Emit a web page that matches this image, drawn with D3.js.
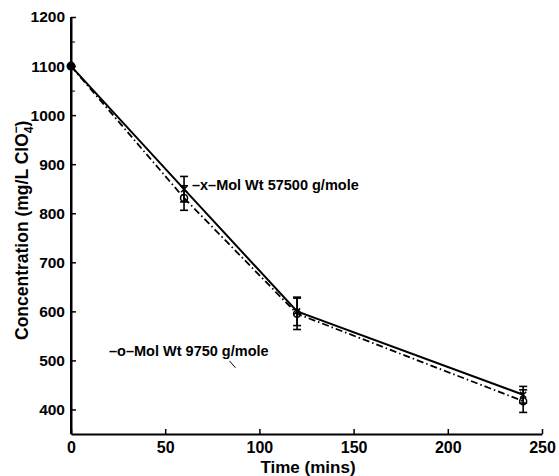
<!DOCTYPE html>
<html>
<head>
<meta charset="utf-8">
<script src="https://cdn.jsdelivr.net/npm/d3@7"></script>
<style>
  body { margin: 0; background: #fff; }
  text { font-family: "Liberation Sans", Arial, sans-serif; font-weight: bold; fill: #000; }
</style>
</head>
<body>
<div id="chart"></div>
<script>

// time points (mins)
var times = [0, 60, 120, 240];

// Mol Wt 57500 g/mole (solid, x)
var heavyValues = [1100, 849, 600, 430];
var heavyErrors = [0, 26, 29, 17];

// Mol Wt 9750 g/mole (dash-dot, o)
var lightValues = [1100, 831, 595, 417];
var lightErrors = [0, 25, 32, 23];

var xTicks = [0, 50, 100, 150, 200, 250];
var yTicks = [400, 500, 600, 700, 800, 900, 1000, 1100, 1200];
var yMinorTicks = [1050, 1150];

var margin = {top: 17, right: 17, bottom: 42, left: 71},
    width = 559 - margin.left - margin.right,
    height = 476 - margin.top - margin.bottom;

var x = d3.scaleLinear().domain([0, 250]).range([0, width]);
var y = d3.scaleLinear().domain([350, 1200]).range([height, 0]);

var svg = d3.select("#chart").append("svg")
    .attr("width", 559)
    .attr("height", 476)
    .append("g")
    .attr("transform", "translate(" + margin.left + "," + margin.top + ")");

// axes, matlab style ticks pointing in
var xAxis = svg.append("g")
    .attr("transform", "translate(0," + height + ")")
    .call(d3.axisBottom(x).tickValues(xTicks).tickFormat(d3.format("d"))
        .tickSize(-5).tickPadding(8).tickSizeOuter(0));
var yAxis = svg.append("g")
    .call(d3.axisLeft(y).tickValues(yTicks).tickFormat(d3.format("d"))
        .tickSize(-5).tickPadding(6).tickSizeOuter(0));

svg.append("g")
    .call(d3.axisLeft(y).tickValues(yMinorTicks).tickSize(-4).tickFormat(""))
    .select(".domain").remove();

[xAxis, yAxis].forEach(function (ax) {
    ax.select(".domain").attr("stroke-width", 2);
    ax.selectAll(".tick line").attr("stroke-width", 1.5);
    ax.selectAll("text").attr("fill", "#000");
});
xAxis.selectAll("text").style("font-size", "16px");
yAxis.selectAll("text").style("font-size", "15.5px");

// y axis line goes all the way to the top tick
svg.append("line")
    .attr("x1", 0).attr("x2", 0)
    .attr("y1", y(1200)).attr("y2", height)
    .attr("stroke", "#000").attr("stroke-width", 2);

// lines
var line = d3.line()
    .x(function (d) { return x(d[0]); })
    .y(function (d) { return y(d[1]); });

svg.append("path")
    .datum(d3.zip(times, lightValues))
    .attr("d", line)
    .attr("fill", "none")
    .attr("stroke", "#000")
    .attr("stroke-width", 1.8)
    .attr("stroke-dasharray", "7,3,1.5,3");

svg.append("path")
    .datum(d3.zip(times, heavyValues))
    .attr("d", line)
    .attr("fill", "none")
    .attr("stroke", "#000")
    .attr("stroke-width", 2);

// error bars
function drawErrors(values, errors) {
    var g = svg.append("g").attr("stroke", "#000").attr("stroke-width", 1.6);
    times.forEach(function (t, i) {
        if (!errors[i]) return;
        var cx = x(t), lo = y(values[i] - errors[i]), hi = y(values[i] + errors[i]);
        g.append("line").attr("x1", cx).attr("x2", cx).attr("y1", lo).attr("y2", hi);
        g.append("line").attr("x1", cx - 4).attr("x2", cx + 4).attr("y1", lo).attr("y2", lo);
        g.append("line").attr("x1", cx - 4).attr("x2", cx + 4).attr("y1", hi).attr("y2", hi);
    });
}
drawErrors(heavyValues, heavyErrors);
drawErrors(lightValues, lightErrors);

// markers
svg.selectAll(".omark")
    .data(d3.zip(times, lightValues).slice(1))
    .enter().append("circle")
    .attr("cx", function (d) { return x(d[0]); })
    .attr("cy", function (d) { return y(d[1]); })
    .attr("r", 3.5)
    .attr("fill", "none")
    .attr("stroke", "#000")
    .attr("stroke-width", 1.5);

svg.selectAll(".xmark")
    .data(d3.zip(times, heavyValues).slice(1))
    .enter().append("path")
    .attr("d", function (d) {
        var cx = x(d[0]), cy = y(d[1]), s = 3;
        return "M" + (cx - s) + "," + (cy - s) + "L" + (cx + s) + "," + (cy + s) +
               "M" + (cx - s) + "," + (cy + s) + "L" + (cx + s) + "," + (cy - s);
    })
    .attr("stroke", "#000")
    .attr("stroke-width", 1.5);

svg.append("circle")
    .attr("cx", x(times[0]))
    .attr("cy", y(heavyValues[0]))
    .attr("r", 4.5)
    .attr("fill", "#000");

// in-plot labels
svg.append("text")
    .attr("x", x(64.2))
    .attr("y", y(848))
    .style("font-size", "14.5px")
    .text("\u2013x\u2013Mol Wt 57500 g/mole");

svg.append("text")
    .attr("x", x(20.2))
    .attr("y", y(508))
    .style("font-size", "14.5px")
    .text("\u2013o\u2013Mol Wt 9750 g/mole");

// stray pointer stroke under "g/"
svg.append("line")
    .attr("x1", x(84.1)).attr("y1", y(499))
    .attr("x2", x(87.3)).attr("y2", y(485))
    .attr("stroke", "#000").attr("stroke-width", 1);

// axis titles
svg.append("text")
    .attr("x", x(125.8))
    .attr("y", height + 39)
    .attr("text-anchor", "middle")
    .style("font-size", "17px")
    .text("Time (mins)");

var yl = svg.append("text")
    .attr("transform", "translate(" + (-43) + "," + (height - 94) + ") rotate(-90)")
    .attr("text-anchor", "start")
    .style("font-size", "17.5px");
yl.append("tspan").text("Concentration (mg/L ClO");
yl.append("tspan").attr("dy", 5).style("font-size", "12px").text("4");
yl.append("tspan").attr("dy", -13).attr("dx", -7).style("font-size", "12px").text("\u2212");
yl.append("tspan").attr("dy", 8).text(")");

</script>
</body>
</html>
